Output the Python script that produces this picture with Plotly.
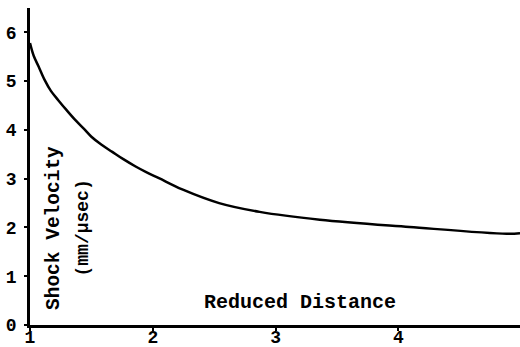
import plotly.graph_objects as go

# Shock velocity versus reduced distance
reduced_distance = [1.00, 1.03, 1.07, 1.12, 1.17, 1.23, 1.30, 1.37, 1.44, 1.50,
                    1.58, 1.67, 1.76, 1.86, 1.95, 2.05, 2.24, 2.54, 2.87, 3.36,
                    4.09, 4.88, 4.99]
shock_velocity = [5.78, 5.52, 5.30, 5.02, 4.80, 4.61, 4.40, 4.20, 4.02, 3.86,
                  3.70, 3.55, 3.40, 3.25, 3.13, 3.01, 2.78, 2.50, 2.32, 2.16,
                  2.01, 1.87, 1.88]

x_ticks = [1, 2, 3, 4]
y_ticks = [0, 1, 2, 3, 4, 5, 6]

font_family = "Liberation Mono"

fig = go.Figure()
fig.add_trace(go.Scatter(
    x=reduced_distance, y=shock_velocity, mode="lines",
    line=dict(color="black", width=2.5, shape="spline", smoothing=1.0),
    hoverinfo="skip", showlegend=False,
))

axis_common = dict(
    showgrid=False, zeroline=False, showline=True, linecolor="black",
    linewidth=2.5, ticks="outside", ticklen=3, tickwidth=2, tickcolor="black",
    automargin=False,
    tickfont=dict(family=font_family, size=18, color="black", weight="bold"),
)

fig.update_xaxes(range=[1, 4.99], tickvals=x_ticks, ticklabelstandoff=-9, **axis_common)
fig.update_yaxes(range=[0, 6.5], tickvals=y_ticks, ticklabelstandoff=4, **axis_common)

title_font = dict(family=font_family, size=20, color="black", weight="bold")
fig.add_annotation(x=(54 - 30) / 490, y=(325 - 312) / 317, xref="paper", yref="paper",
                   text="Shock Velocity", showarrow=False, textangle=-90,
                   font=dict(family=font_family, size=19.5, color="black", weight="bold"),
                   xanchor="center", yanchor="bottom")
fig.add_annotation(x=(82 - 30) / 490, y=(325 - 279) / 317, xref="paper", yref="paper",
                   text="(mm/\u00b5sec)", showarrow=False, textangle=-90,
                   font=dict(family=font_family, size=18, color="black", weight="bold"),
                   xanchor="center", yanchor="bottom")
fig.add_annotation(x=(300 - 30) / 490, y=(325 - 302) / 317, xref="paper", yref="paper",
                   text="Reduced Distance", showarrow=False, font=title_font,
                   xanchor="center", yanchor="middle")

fig.update_layout(
    width=520, height=347,
    margin=dict(l=30, r=0, t=8, b=22, autoexpand=False),
    paper_bgcolor="white", plot_bgcolor="white",
)

fig.write_html("out.html")
